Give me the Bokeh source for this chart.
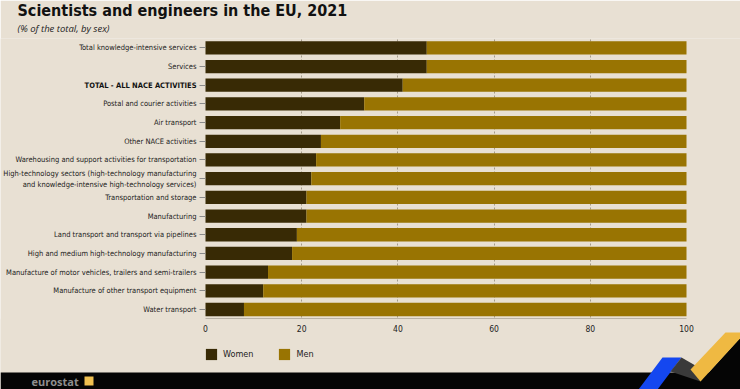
from bokeh.plotting import figure
from bokeh.models import (ColumnDataSource, Range1d, Legend, LegendItem, FixedTicker,
                          Title, BoxAnnotation, Label)
from bokeh.core.properties import value
from bokeh.embed import file_html
from bokeh.resources import INLINE

# ---------------- data ----------------
categories = [
    "Total knowledge-intensive services",
    "Services",
    "TOTAL - ALL NACE ACTIVITIES",
    "Postal and courier activities",
    "Air transport",
    "Other NACE activities",
    "Warehousing and support activities for transportation",
    "High-technology sectors (high-technology manufacturing\nand knowledge-intensive high-technology services)",
    "Transportation and storage",
    "Manufacturing",
    "Land transport and transport via pipelines",
    "High and medium high-technology manufacturing",
    "Manufacture of motor vehicles, trailers and semi-trailers",
    "Manufacture of other transport equipment",
    "Water transport",
]
women = [46, 46, 41, 33, 28, 24, 23, 22, 21, 21, 19, 18, 13, 12, 8]
men = [54, 54, 59, 67, 72, 76, 77, 78, 79, 79, 81, 82, 87, 88, 92]
x_ticks = [0, 20, 40, 60, 80, 100]
grid_ticks = [20, 40, 60, 80]
series_labels = ["Women", "Men"]
bold_category = "TOTAL - ALL NACE ACTIVITIES"

title_text = "Scientists and engineers in the EU, 2021"
subtitle_text = "(% of the total, by sex)"

# ---------------- layout (pixels of the 740x389 picture) ----------------
W, H = 740, 389
FRAME_TOP = 38          # frame = whole canvas below the two titles
PX0, PX100 = 205, 686   # where 0 % and 100 % fall
ROW = 18.69             # pixel height of one category row
FIRST_ROW_TOP = 38.0    # top edge of the first row band

n = len(categories)
ypos = [n - 1 - i for i in range(n)]           # bottom row = 0
ppu = (PX100 - PX0) / 100.0
x_start = -PX0 / ppu
x_end = 100 + (W - PX100) / ppu
y_end = (n - 0.5) + (FIRST_ROW_TOP - FRAME_TOP) / ROW
y_start = y_end - (H - FRAME_TOP) / ROW

# ---------------- style ----------------
BG = "#e8e0d3"
C_WOMEN = "#382a05"
C_MEN = "#997402"
NARROW = "'Liberation Sans Narrow', 'DejaVu Sans Condensed', 'Roboto', sans-serif"

source = ColumnDataSource(dict(y=ypos, cat=categories, women=women, men=men))

p = figure(width=W, height=H, x_range=Range1d(x_start, x_end),
           y_range=Range1d(y_start, y_end), output_backend="svg",
           toolbar_location=None, min_border_left=0, min_border_right=0,
           min_border_bottom=0, min_border_top=FRAME_TOP)
p.background_fill_color = BG
p.border_fill_color = BG
p.outline_line_color = None

# pixel ranges for the decorative footer
p.extra_x_ranges["px"] = Range1d(0, W)
p.extra_y_ranges["px"] = Range1d(H, FRAME_TOP)

renderers = p.hbar_stack(["women", "men"], y="y", height=0.71,
                         color=[C_WOMEN, C_MEN], line_color=None, source=source)

# grid: dotted verticals, masked below the bar area
p.ygrid.grid_line_color = None
p.xgrid.ticker = FixedTicker(ticks=grid_ticks)
p.xgrid.grid_line_color = "#6e6550"
p.xgrid.grid_line_dash = "2 2"
p.xgrid.grid_line_alpha = 0.7
p.xgrid.grid_line_width = 0.8
p.add_layout(BoxAnnotation(top=-0.5, fill_color=BG, fill_alpha=1, line_color=None,
                           level="underlay"))

# x axis fixed at the bottom of the bars
p.xaxis.fixed_location = -0.5
p.xaxis.bounds = (0, 100)
p.xaxis.ticker = FixedTicker(ticks=x_ticks)
p.xaxis.axis_line_color = "#b9b2a6"
p.xaxis.major_tick_line_color = None
p.xaxis.minor_tick_line_color = None
p.xaxis.major_label_text_font = NARROW
p.xaxis.major_label_text_font_size = "8.5px"
p.xaxis.major_label_text_color = "#222222"
p.xaxis.major_label_standoff = 0

# y axis fixed at 0 %
p.yaxis.fixed_location = 0
p.yaxis.ticker = FixedTicker(ticks=ypos)
p.yaxis.major_label_overrides = {y: ("" if c == bold_category else c)
                                 for y, c in zip(ypos, categories)}
p.yaxis.axis_line_color = None
p.yaxis.major_tick_line_color = "#8a8a8a"
p.yaxis.major_tick_out = 6
p.yaxis.major_tick_in = 0
p.yaxis.minor_tick_line_color = None
p.yaxis.major_label_text_font = NARROW
p.yaxis.major_label_text_font_size = "7.5px"
p.yaxis.major_label_text_color = "#222222"
p.yaxis.major_label_standoff = 3

# bold label of the total row
p.add_layout(Label(x=0, y=ypos[categories.index(bold_category)], x_offset=-9,
                   text=bold_category, text_align="right", text_baseline="middle",
                   text_font=NARROW, text_font_style="bold", text_font_size="7.5px",
                   text_color="#111111"))

# titles (subtitle closest to the frame, main title above it)
p.add_layout(Title(text=subtitle_text, text_font="Open Sans", text_font_style="italic",
                   text_font_size="9.5px", text_color="#222222", standoff=7,
                   offset=17), "above")
p.add_layout(Title(text=title_text, text_font=NARROW, text_font_style="bold",
                   text_font_size="16px", text_color="#111111", standoff=-6,
                   offset=17), "above")

# legend (inside the frame, below the x axis)
legend = Legend(items=[LegendItem(label=series_labels[0], renderers=[renderers[0]]),
                       LegendItem(label=series_labels[1], renderers=[renderers[1]])],
                orientation="horizontal", location=(204, 28))
legend.glyph_width = 14
legend.glyph_height = 14
legend.label_height = 14
legend.label_standoff = 5
legend.spacing = 24
legend.padding = 0
legend.margin = 0
legend.border_line_color = None
legend.background_fill_alpha = 0
legend.label_text_font = NARROW
legend.label_text_font_size = "9px"
legend.label_text_color = "#222222"
p.add_layout(legend, "center")

# ---------------- decorative footer band and chevron (pixel ranges) ----------------
p.patches(xs=[[0, 740, 740, 0], [700, 740, 740, 700],
              [638, 662, 681, 657], [670, 681, 707, 700], [690, 725, 745, 700]],
          ys=[[372, 372, 389, 389], [381, 337, 389, 389],
              [389, 357, 357, 389], [371, 357, 372, 381], [369, 332, 332, 381]],
          fill_color=["#050505", "#050505", "#1447f0", "#3a3a3a", "#efb942"],
          line_color=None, x_range_name="px", y_range_name="px")
p.text(x=[31], y=[380.5], text=["eurostat"], text_font=value("Open Sans"),
       text_font_size="11px", text_font_style="bold", text_color="#8f8f8f",
       text_baseline="middle", x_range_name="px", y_range_name="px")
p.quad(left=[84], right=[93], top=[376], bottom=[385], fill_color="#f0c050",
       line_color=None, x_range_name="px", y_range_name="px")

open("out.html", "w").write(file_html(p, INLINE))
